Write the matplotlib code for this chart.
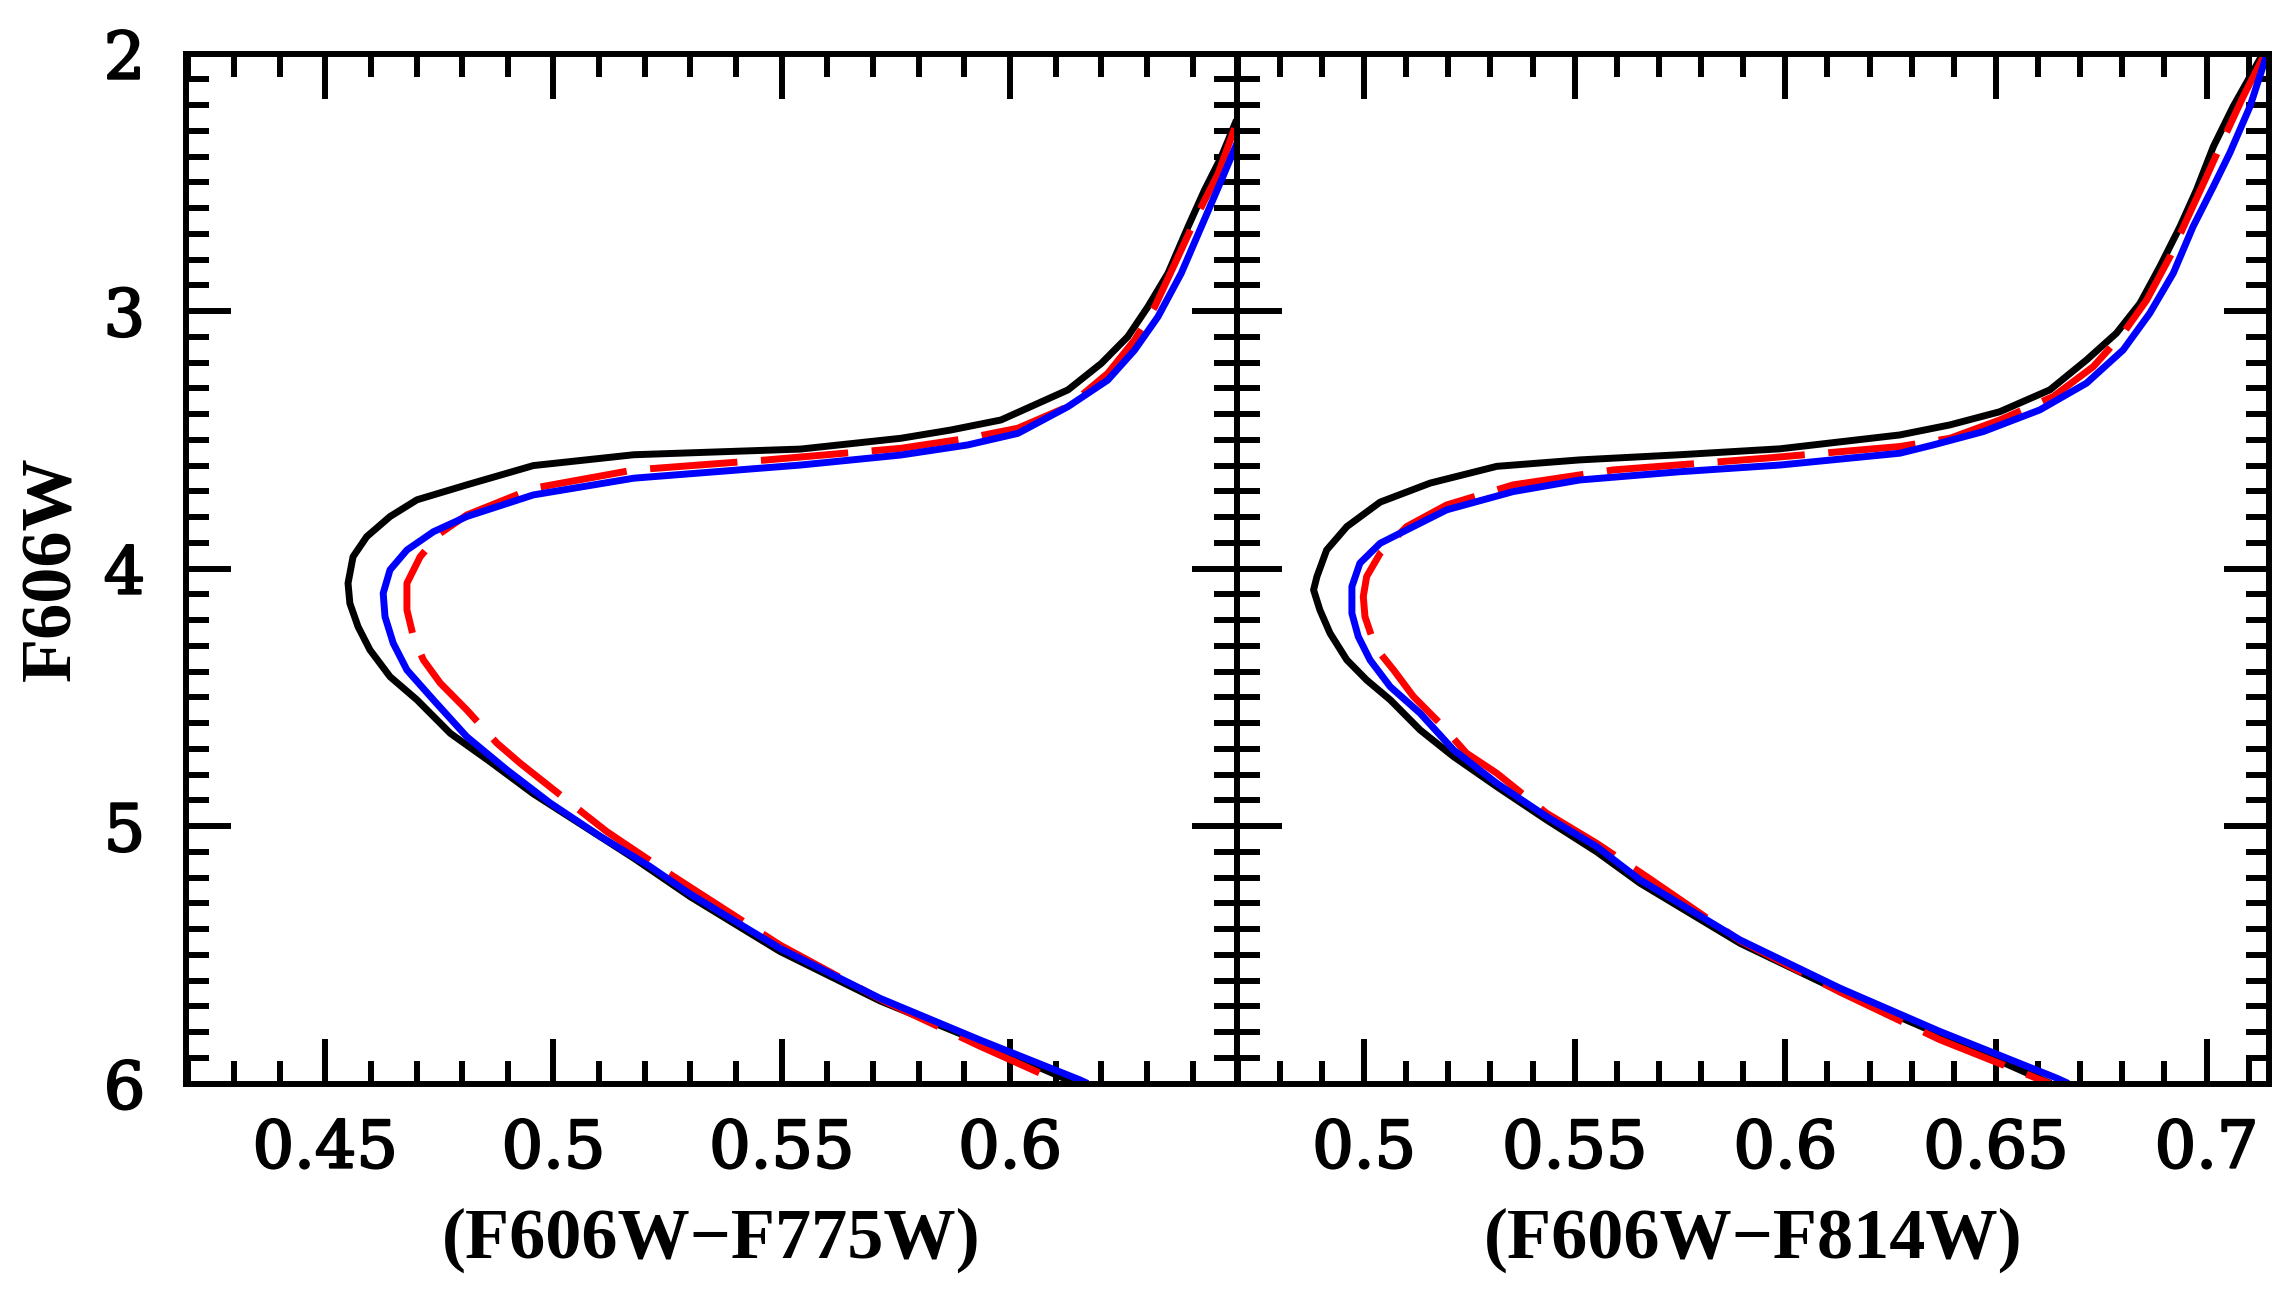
import matplotlib
matplotlib.use("Agg")
import matplotlib.pyplot as plt
import matplotlib.patheffects as pe
from matplotlib.ticker import MultipleLocator, FuncFormatter

# ---------------- data ----------------
# Left panel: colour (F606W-F775W) vs F606W
L_black_col = [0.6496, 0.6463, 0.6426, 0.6390, 0.6346, 0.6302, 0.6258, 0.6200, 0.6127, 0.6053,
               0.5980, 0.5870, 0.5761, 0.5541, 0.5176, 0.4956, 0.4810, 0.4701, 0.4642, 0.4591,
               0.4561, 0.4550, 0.4554, 0.4572, 0.4598, 0.4642, 0.4701, 0.4774, 0.4861, 0.4956,
               0.5066, 0.5176, 0.5300, 0.5496, 0.5715, 0.5934, 0.6145]
L_black_mag = [2.258, 2.400, 2.530, 2.672, 2.853, 2.983, 3.099, 3.203, 3.306, 3.365,
               3.423, 3.462, 3.494, 3.536, 3.558, 3.600, 3.675, 3.733, 3.798, 3.876,
               3.954, 4.057, 4.135, 4.226, 4.316, 4.420, 4.510, 4.640, 4.750, 4.875,
               5.000, 5.125, 5.275, 5.487, 5.679, 5.838, 6.000]

L_red_col = [0.6492, 0.6456, 0.6412, 0.6368, 0.6317, 0.6273, 0.6214, 0.6127, 0.6017, 0.5907,
             0.5761, 0.5468, 0.5176, 0.4956, 0.4810, 0.4752, 0.4708, 0.4679, 0.4679, 0.4693,
             0.4715, 0.4752, 0.4810, 0.4876, 0.4927, 0.5066, 0.5117, 0.5264, 0.5496, 0.5715,
             0.5934, 0.6110]
L_red_mag = [2.290, 2.465, 2.620, 2.789, 2.983, 3.112, 3.242, 3.371, 3.455, 3.494,
             3.533, 3.578, 3.617, 3.688, 3.792, 3.863, 3.954, 4.057, 4.161, 4.264,
             4.355, 4.445, 4.549, 4.678, 4.756, 4.951, 5.022, 5.197, 5.462, 5.672,
             5.855, 5.995]

L_blue_col = [0.6500, 0.6463, 0.6419, 0.6375, 0.6324, 0.6273, 0.6214, 0.6127, 0.6017, 0.5907,
              0.5761, 0.5541, 0.5176, 0.4956, 0.4810, 0.4737, 0.4679, 0.4642, 0.4627, 0.4631,
              0.4649, 0.4679, 0.4737, 0.4810, 0.4898, 0.4993, 0.5103, 0.5212, 0.5300, 0.5496,
              0.5715, 0.5934, 0.6153, 0.6170]
L_blue_mag = [2.336, 2.491, 2.672, 2.853, 3.022, 3.151, 3.268, 3.371, 3.475, 3.520,
              3.559, 3.598, 3.649, 3.714, 3.798, 3.857, 3.928, 4.005, 4.096, 4.187,
              4.290, 4.394, 4.510, 4.653, 4.782, 4.911, 5.041, 5.158, 5.265, 5.475,
              5.669, 5.831, 5.986, 6.000]

# Right panel: colour (F606W-F814W) vs F606W
R_black_col = [0.7134, 0.7103, 0.7063, 0.7016, 0.6976, 0.6937, 0.6889, 0.6842, 0.6786, 0.6715,
               0.6628, 0.6509, 0.6391, 0.6272, 0.5987, 0.5749, 0.5512, 0.5315, 0.5157, 0.5038,
               0.4959, 0.4911, 0.4888, 0.4880, 0.4895, 0.4919, 0.4959, 0.5006, 0.5062, 0.5133,
               0.5212, 0.5315, 0.5433, 0.5552, 0.5655, 0.5892, 0.6130, 0.6367, 0.6630]
R_black_mag = [2.000, 2.090, 2.206, 2.362, 2.530, 2.672, 2.828, 2.970, 3.086, 3.190,
               3.306, 3.391, 3.442, 3.481, 3.535, 3.558, 3.578, 3.603, 3.668, 3.742,
               3.837, 3.928, 4.031, 4.083, 4.161, 4.251, 4.355, 4.433, 4.510, 4.627,
               4.730, 4.847, 4.976, 5.100, 5.222, 5.455, 5.642, 5.810, 6.000]

R_red_col = [0.7139, 0.7127, 0.7087, 0.7039, 0.7000, 0.6960, 0.6913, 0.6858, 0.6802, 0.6731,
             0.6636, 0.6509, 0.6391, 0.6272, 0.5948, 0.5591, 0.5354, 0.5196, 0.5101, 0.5038,
             0.5006, 0.4998, 0.5002, 0.5018, 0.5038, 0.5070, 0.5117, 0.5180, 0.5243, 0.5315,
             0.5433, 0.5552, 0.5671, 0.5892, 0.6130, 0.6367, 0.6628]
R_red_mag = [2.000, 2.038, 2.167, 2.336, 2.478, 2.620, 2.789, 2.957, 3.086, 3.216,
             3.332, 3.423, 3.494, 3.526, 3.572, 3.617, 3.675, 3.753, 3.837, 3.941,
             4.031, 4.109, 4.187, 4.264, 4.329, 4.394, 4.497, 4.601, 4.717, 4.795,
             4.950, 5.067, 5.197, 5.445, 5.645, 5.830, 6.000]

R_blue_col = [0.7144, 0.7134, 0.7103, 0.7055, 0.7016, 0.6968, 0.6921, 0.6865, 0.6802, 0.6715,
              0.6604, 0.6470, 0.6351, 0.6272, 0.5987, 0.5749, 0.5512, 0.5354, 0.5196, 0.5101,
              0.5038, 0.4990, 0.4971, 0.4971, 0.4986, 0.5014, 0.5062, 0.5133, 0.5212, 0.5315,
              0.5433, 0.5552, 0.5655, 0.5892, 0.6130, 0.6367, 0.6644, 0.6672]
R_blue_mag = [2.000, 2.050, 2.206, 2.387, 2.517, 2.672, 2.853, 3.009, 3.151, 3.280,
              3.384, 3.468, 3.520, 3.552, 3.598, 3.624, 3.656, 3.701, 3.772, 3.850,
              3.902, 3.979, 4.070, 4.174, 4.264, 4.355, 4.459, 4.562, 4.704, 4.834,
              4.963, 5.080, 5.209, 5.442, 5.630, 5.798, 5.979, 6.000]

L_xlim = (0.4194, 0.6496)
R_xlim = (0.4697, 0.7149)
Y_lim = (6.0, 2.0)
L_xlabel = "(F606W\u2212F775W)"
R_xlabel = "(F606W\u2212F814W)"
Y_label = "F606W"

# ---------------- figure ----------------
plt.rcParams["lines.scale_dashes"] = False
fig = plt.figure(figsize=(22.91, 12.92), dpi=100)

x0, xm, x1 = 185.5 / 2291, 1236.5 / 2291, 2269.3 / 2291
y0, y1 = 1 - 1083.5 / 1292, 1 - 53.6 / 1292
axL = fig.add_axes([x0, y0, xm - x0, y1 - y0])
axR = fig.add_axes([xm, y0, x1 - xm, y1 - y0])

LW = 5.0
tick_font = dict(family=["DejaVu Serif"], size=47)
label_font = dict(family=["Liberation Serif", "DejaVu Serif"], weight="bold", size=52)
thick = [pe.withStroke(linewidth=1.6, foreground="black")]

fmt = FuncFormatter(lambda v, p: "%g" % round(v, 3))


def draw(ax, bc, bm, rc, rm, uc, um, xlim):
    ax.plot(bc, bm, color="black", lw=LW, solid_capstyle="butt", solid_joinstyle="round", zorder=3)
    ax.plot(rc, rm, color="#ff0000", lw=LW, dashes=(63, 17), dash_capstyle="butt", zorder=4)
    ax.plot(uc, um, color="#0000ff", lw=LW, solid_capstyle="butt", solid_joinstyle="round", zorder=5)
    ax.set_xlim(*xlim)
    ax.set_ylim(*Y_lim)
    ax.xaxis.set_major_locator(MultipleLocator(0.05))
    ax.xaxis.set_minor_locator(MultipleLocator(0.01))
    ax.yaxis.set_major_locator(MultipleLocator(1))
    ax.yaxis.set_minor_locator(MultipleLocator(0.1))
    ax.xaxis.set_major_formatter(fmt)
    ax.yaxis.set_major_formatter(FuncFormatter(lambda v, p: "%d" % round(v)))
    ax.tick_params(which="both", direction="in", top=True, right=True, width=4.3, color="black")
    ax.tick_params(which="major", length=32.5)
    ax.tick_params(which="minor", length=16.5)
    ax.tick_params(axis="x", which="major", pad=24.5)
    ax.tick_params(axis="y", which="major", pad=29)
    for s in ax.spines.values():
        s.set_linewidth(4.3)
        s.set_zorder(6)
    for lab in ax.get_xticklabels() + ax.get_yticklabels():
        lab.set_fontfamily(tick_font["family"])
        lab.set_fontsize(tick_font["size"])
        lab.set_path_effects(thick)


draw(axL, L_black_col, L_black_mag, L_red_col, L_red_mag, L_blue_col, L_blue_mag, L_xlim)
draw(axR, R_black_col, R_black_mag, R_red_col, R_red_mag, R_blue_col, R_blue_mag, R_xlim)
axR.tick_params(axis="y", labelleft=False)

axL.set_xlabel(L_xlabel, va="baseline", **label_font)
axR.set_xlabel(R_xlabel, va="baseline", **label_font)
axL.xaxis.set_label_coords(0.5, -0.1694)
axR.xaxis.set_label_coords(0.5, -0.1694)
axL.set_ylabel(Y_label, va="center", ha="center", **label_font)
axL.yaxis.set_label_coords(-0.1264, 0.5)

fig.savefig("out.png", dpi=100)
